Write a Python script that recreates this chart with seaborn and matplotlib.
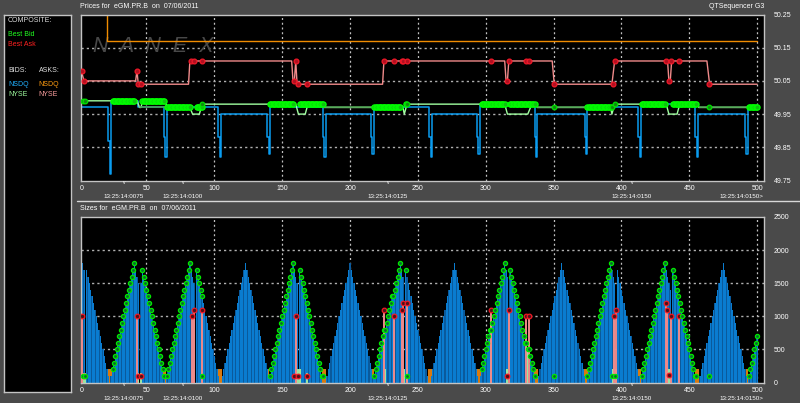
"""Nanex QTSequencer style chart: prices and sizes for eGM.PR.B, tick by tick."""

import matplotlib

matplotlib.use("Agg")
import matplotlib.pyplot as plt
import seaborn as sns

# ── Data ─────────────────────────────────────────────────────────────
price_ticks = [50.25, 50.15, 50.05, 49.95, 49.85, 49.75]
size_ticks = [2500, 2000, 1500, 1000, 500, 0]
seq_ticks = [50, 100, 150, 200, 250, 300, 350, 400, 450, 500]

nsdq_ask_x = [20.7, 20.7, 500]
nsdq_ask_y = [50.30, 50.17, 50.17]

nyse_ask_x = [2, 4, 42, 43, 44, 81, 82, 157, 158, 159, 160, 161, 224, 225, 314, 315,
              316, 317, 349, 350.5, 393, 395, 434, 435, 436, 437, 463, 465, 500]
nyse_ask_y = [50.08, 50.05, 50.05, 50.08, 50.04, 50.04, 50.11, 50.11, 50.05, 50.05,
              50.11, 50.04, 50.04, 50.11, 50.11, 50.05, 50.05, 50.11, 50.11, 50.04,
              50.04, 50.11, 50.11, 50.05, 50.05, 50.11, 50.11, 50.04, 50.04]

nyse_bid_x = [2, 43, 45, 46, 47, 64, 65, 82, 84, 89, 91, 160, 162, 167, 169, 180, 181,
              239, 240, 242, 314, 316, 331, 334, 337, 338, 392, 393, 395, 433, 435,
              441, 443, 456, 457, 500]
nyse_bid_y = [49.99, 49.99, 49.97, 49.97, 49.99, 49.99, 49.97, 49.97, 49.95, 49.95,
              49.98, 49.98, 49.95, 49.95, 49.98, 49.98, 49.97, 49.97, 49.95, 49.98,
              49.98, 49.95, 49.95, 49.98, 49.98, 49.97, 49.97, 49.95, 49.98, 49.98,
              49.95, 49.95, 49.98, 49.98, 49.97, 49.97]
dark_bid_spans = [(45, 65), (181, 218), (338, 375), (457, 494)]
dark_bid_level = 49.97

nsdq_bid_x = [2, 22, 22, 23, 23, 24, 24, 44, 44, 63, 63, 64, 64, 65, 65, 103, 103, 104,
              104, 105, 105, 139, 139, 140, 140, 141, 141, 159, 159, 180, 180, 181, 181,
              182, 182, 215.5, 215.5, 216.5, 216.5, 217.5, 217.5, 258.5, 258.5, 259.5,
              259.5, 260.5, 260.5, 293.5, 293.5, 294.5, 294.5, 295.5, 295.5, 336, 336,
              337, 337, 338, 338, 373, 373, 374, 374, 375, 375, 412.5, 412.5, 413.5,
              413.5, 414.5, 414.5, 454.5, 454.5, 455.5, 455.5, 456.5, 456.5, 491, 491,
              492, 492, 493, 493, 500]
nsdq_bid_y = [49.97, 49.97, 49.87, 49.87, 49.77, 49.77, 49.99, 49.99, 49.97, 49.97, 49.88,
              49.88, 49.82, 49.82, 49.97, 49.97, 49.88, 49.88, 49.82, 49.82, 49.95, 49.95,
              49.88, 49.88, 49.83, 49.83, 49.98, 49.98, 49.97, 49.97, 49.88, 49.88, 49.82,
              49.82, 49.95, 49.95, 49.88, 49.88, 49.83, 49.83, 49.97, 49.97, 49.88, 49.88,
              49.82, 49.82, 49.95, 49.95, 49.88, 49.88, 49.83, 49.83, 49.98, 49.98, 49.88,
              49.88, 49.82, 49.82, 49.95, 49.95, 49.88, 49.88, 49.83, 49.83, 49.97, 49.97,
              49.88, 49.88, 49.82, 49.82, 49.98, 49.98, 49.88, 49.88, 49.82, 49.82, 49.95,
              49.95, 49.88, 49.88, 49.83, 49.83, 49.97, 49.97]

# first tick, last tick, price of the best bid runs
best_bid_runs = [(25, 41, 49.99), (47, 63, 49.99), (65, 82, 49.97), (87, 91, 49.97),
                 (141, 158, 49.98), (163, 180, 49.98), (218, 237, 49.97), (241, 241, 49.98),
                 (297, 314, 49.98), (318, 336, 49.98), (375, 392, 49.97), (415, 432, 49.98),
                 (438, 455, 49.98), (494, 500, 49.97)]

lone_bid_x = [3, 5, 91, 242, 350.6, 393, 395, 464.8]
lone_bid_y = [49.99, 49.99, 49.98, 49.98, 49.97, 49.97, 49.98, 49.97]
lone_bid_size = [100, 100, 100, 100, 100, 100, 100, 100]

best_ask_x = [2.3, 4.2, 42.8, 44, 46, 82.6, 85.3, 91.2, 160, 158.7, 161.5, 168.3, 225.3,
              232.2, 238, 239.3, 241.8, 303.7, 317, 315.5, 329.7, 331.7, 350.6, 393.6,
              395.5, 432.9, 436.6, 435.3, 442.7, 464.8]
best_ask_y = [50.08, 50.05, 50.08, 50.04, 50.04, 50.11, 50.11, 50.11, 50.11, 50.05, 50.04,
              50.04, 50.11, 50.11, 50.11, 50.11, 50.11, 50.11, 50.11, 50.05, 50.11, 50.11,
              50.04, 50.04, 50.11, 50.11, 50.11, 50.05, 50.11, 50.04]

ask_size_x = [2.3, 43.3, 83.3, 85.3, 91.2, 160.2, 225.3, 232.2, 238, 239.3, 241.8, 303.7,
              317, 329.7, 331.7, 394.5, 396, 432.9, 433.9, 436.6, 442.7]
ask_size_y = [1000, 1000, 1000, 1100, 1100, 1000, 1100, 1000, 1100, 1200, 1200, 1100,
              1100, 1000, 1000, 1000, 1100, 1200, 1100, 1000, 1000]
low_ask_x = [4.2, 44, 46, 158.7, 162, 168.3, 315.5, 435]
low_ask_y = [100, 100, 100, 100, 100, 100, 100, 120]

nyse_bid_size_x = [3, 5, 44, 46, 84, 162, 163, 168, 226, 240, 242, 304, 316, 331, 394, 396,
                   434, 436]
nyse_bid_size_y = [150, 150, 150, 150, 200, 200, 200, 150, 200, 200, 200, 1000, 200, 500,
                   200, 200, 200, 200]

nsdq_ask_size_x = [22, 23, 24, 63, 64, 103, 104, 105, 139, 140, 180, 181, 182, 215, 216,
                   217, 258, 259, 260, 294, 295, 296, 336, 337, 338, 373, 374, 375, 412,
                   413, 414, 455, 456, 457, 491, 492, 493]
nsdq_ask_size_y = [200] * len(nsdq_ask_size_x)

rise = [100, 200, 300, 400, 500, 600, 700, 800, 900, 1000, 1100, 1200, 1300, 1400, 1500,
        1600, 1700, 1800]
fall = [1700, 1600, 1500, 1400, 1300, 1200, 1100, 1000, 900, 800, 700, 600, 500, 400, 300,
        200, 100]

# first tick of the run, bid sizes from there on
nsdq_bid_size_runs = [
    (2, [100, 1800, 1700, 100]), (6, fall), (24, rise), (42, [1700, 1600, 1500, 0, 1500]),
    (47, fall), (65, rise), (83, [1700, 1600, 1500, 0]), (87, fall), (106, rise),
    (124, fall), (141, rise), (159, [1700, 1600, 1500, 0]), (163, fall), (183, rise),
    (201, fall),
    (218, [100, 200, 300, 400, 500, 600, 700, 800, 800, 900, 1000, 1100, 1200, 1300, 1300,
           1400, 1500, 1600, 1700, 1800]),
    (238, [1700, 1600, 0]), (241, fall), (260, rise), (278, fall),
    (296, [100, 200, 300, 400, 500, 600, 700, 800, 800, 900, 1000, 1100, 1200, 1300, 1400,
           1500, 1600, 1700, 1800]),
    (315, [1700, 1600, 0]),
    (318, [1700, 1600, 1500, 1400, 1300, 1200, 1100, 1000, 900, 800, 700, 600, 600, 500,
           500, 400, 300, 200, 100]),
    (339, rise), (357, fall), (375, rise), (393, [1700, 1600, 1500, 0]), (397, fall),
    (415, rise), (433, [1700, 1600, 1500, 1400, 0]), (438, fall), (458, rise), (476, fall),
    (494, [100, 200, 300, 400, 500, 600, 700]),
]

time_labels = ["13:25:14:0075", "13:25:14:0100", "13:25:14:0125", "13:25:14:0150",
               "13:25:14:0150>"]

# ── Layout and colours ───────────────────────────────────────────────
W, H = 800, 403
BG = "#4a4a4a"
FRAME = "#c4c4c4"
TXT = "#ffffff"
BLUE = "#0a9cf0"
BAR_BLUE = "#0a7cd0"
BAR_DARK = "#0a5a9c"
ORANGE = "#f08c00"
PINK = "#f08a8a"
LIGHT_GREEN = "#a0ffa0"
FONT = "Liberation Sans"
FS = 5.0
FS_TIME = 4.5


def add_panel(fig, left, top, right, bottom):
    ax = fig.add_axes([left / W, 1 - bottom / H, (right - left) / W, (bottom - top) / H])
    ax.set_facecolor("black")
    for spine in ax.spines.values():
        spine.set_color(FRAME)
        spine.set_linewidth(1.0)
    return ax


def fig_text(fig, x, y, s, color=TXT, size=FS, ha="left", **kw):
    fig.text(x / W, 1 - y / H, s, color=color, fontsize=size, ha=ha, va="center", **kw)


def style_axis(ax, yticks, ylim, grid_ticks):
    ax.set_xlim(1.4, 504.7)
    ax.set_ylim(*ylim)
    ax.set_xticks(seq_ticks)
    ax.set_yticks(yticks)
    ax.yaxis.tick_right()
    ax.tick_params(axis="both", length=0, colors=TXT, labelsize=FS, pad=0)
    ax.tick_params(axis="y", pad=7.5)
    ax.tick_params(axis="x", pad=3.2)
    ax.set_xlabel("")
    ax.set_ylabel("")
    ax.grid(False)
    ax.set_axisbelow(True)
    ax.vlines(seq_ticks, *ylim, color="#c0c0c0", lw=0.9, ls=(0, (1.6, 2.2)), zorder=0.5)
    ax.hlines(grid_ticks, 1.4, 504.7, color="#b0b0b0", lw=1.0, ls=(0, (1.6, 2.2)), zorder=0.5)
    ax.text(2.3, ylim[0] - (ylim[1] - ylim[0]) * 0.026, "0", color=TXT, fontsize=FS,
            ha="center", va="top", clip_on=False)


def dots(ax, x, y, face, edge, size=13, z=5):
    sns.scatterplot(x=x, y=y, ax=ax, s=size, color=face, edgecolor=edge, linewidth=0.9,
                    zorder=z, legend=False, clip_on=True)


def draw_prices(ax, bid_x, bid_y):
    sns.lineplot(x=nsdq_ask_x, y=nsdq_ask_y, ax=ax, estimator=None, sort=False, color=ORANGE,
                 lw=1.0, zorder=2)
    sns.lineplot(x=nyse_ask_x, y=nyse_ask_y, ax=ax, estimator=None, sort=False, color=PINK,
                 lw=1.0, zorder=2)
    sns.lineplot(x=nsdq_bid_x, y=nsdq_bid_y, ax=ax, estimator=None, sort=False, color=BLUE,
                 lw=1.1, zorder=2)
    sns.lineplot(x=nyse_bid_x, y=nyse_bid_y, ax=ax, estimator=None, sort=False, color=LIGHT_GREEN,
                 lw=1.0, zorder=3)
    for start, end in dark_bid_spans:
        sns.lineplot(x=[start, end], y=[dark_bid_level, dark_bid_level], ax=ax, estimator=None,
                     color="#4c9a50", lw=1.2, zorder=3)
    dots(ax, bid_x, bid_y, "#10c010", "#00ff00", size=14)
    dots(ax, lone_bid_x, lone_bid_y, "#108a10", "#00e000", size=11)
    dots(ax, best_ask_x, best_ask_y, "#b01020", "#f01828", size=12)


def draw_sizes(ax, bid_x, bid_size):
    sns.barplot(x=nsdq_ask_size_x, y=nsdq_ask_size_y, ax=ax, native_scale=True, color="#d87a10",
                saturation=1, width=1.0, linewidth=0, errorbar=None, zorder=2)
    sns.barplot(x=size_x, y=size_y, ax=ax, native_scale=True, color=BAR_DARK, saturation=1,
                width=1.0, linewidth=0, errorbar=None, zorder=2)
    sns.barplot(x=size_x, y=size_y, ax=ax, native_scale=True, color=BAR_BLUE, saturation=1,
                width=0.72, linewidth=0, errorbar=None, zorder=2)
    ax.vlines(nyse_bid_size_x, 0, nyse_bid_size_y, color="#a0e8a0", lw=1.4, zorder=3)
    ax.vlines(ask_size_x, 0, ask_size_y, color=PINK, lw=1.4, zorder=4)
    dots(ax, ask_size_x, ask_size_y, "#501018", "#f01824", size=11, z=6)
    dots(ax, low_ask_x, low_ask_y, "#501018", "#f01824", size=11, z=6)
    dots(ax, bid_x, bid_size, "#0c6a30", "#00e800", size=9, z=7)
    dots(ax, lone_bid_x, lone_bid_size, "#0c6a30", "#00e800", size=9, z=7)


# ── Expand runs ──────────────────────────────────────────────────────
size_x, size_y = [], []
for first, values in nsdq_bid_size_runs:
    for offset, value in enumerate(values):
        size_x.append(first + offset)
        size_y.append(value)
size_by_tick = dict(zip(size_x, size_y))

best_bid_x, best_bid_y, best_bid_size = [], [], []
for first, last, price in best_bid_runs:
    for tick in range(first, last + 1):
        best_bid_x.append(tick)
        best_bid_y.append(price)
        best_bid_size.append(size_by_tick.get(tick, 100))

# ── Figure ───────────────────────────────────────────────────────────
sns.set_theme(style="dark")
plt.rcParams["font.family"] = [FONT, "DejaVu Sans"]

fig = plt.figure(figsize=(W / 100, H / 100), dpi=100, facecolor=BG)

# legend box on the left
box = add_panel(fig, 3.5, 14.5, 70.5, 391.5)
box.set_xticks([])
box.set_yticks([])
fig_text(fig, 8, 20.5, "COMPOSITE:", color="#e0e0e0", zorder=5)
fig_text(fig, 8, 34, "Best Bid", color="#20ff20", zorder=5)
fig_text(fig, 8, 44, "Best Ask", color="#ff2020", zorder=5)
fig_text(fig, 8, 70.5, "BIDS:", color="#e0e0e0", zorder=5)
fig_text(fig, 38.5, 70.5, "ASKS:", color="#e0e0e0", zorder=5)
fig_text(fig, 8, 84, "NSDQ", color="#20b0ff", zorder=5)
fig_text(fig, 38, 84, "NSDQ", color="#ff9c10", zorder=5)
fig_text(fig, 8, 94, "NYSE", color=LIGHT_GREEN, zorder=5)
fig_text(fig, 38, 94, "NYSE", color="#ffa0a0", zorder=5)

# prices panel
ax_top = add_panel(fig, 80.5, 14.5, 763.5, 180.5)
ax_top.text(0.018, 0.81, "N  A  N  E  X", transform=ax_top.transAxes, color="#484848",
            fontsize=15.5, style="italic", va="center", zorder=1)
draw_prices(ax_top, best_bid_x, best_bid_y)
style_axis(ax_top, price_ticks, (49.75, 50.25), [50.15, 50.05, 49.95, 49.85])
ax_top.set_yticklabels([f"{p:.2f}" for p in price_ticks])

# sizes panel
ax_bot = add_panel(fig, 80.5, 217, 763.5, 382.5)
draw_sizes(ax_bot, best_bid_x, best_bid_size)
style_axis(ax_bot, size_ticks, (0, 2500), [2000, 1500, 1000, 500])
ax_bot.set_yticklabels([str(s) for s in size_ticks])

# titles and time stamps
fig_text(fig, 80, 6.5, "Prices for  eGM.PR.B  on  07/06/2011")
fig_text(fig, 80, 209, "Sizes for  eGM.PR.B  on  07/06/2011")
fig_text(fig, 764, 6.5, "QTSequencer G3", ha="right")
fig.add_artist(plt.Line2D([76.5 / W, 1], [1 - 201 / H, 1 - 201 / H], color="#d8d8d8", lw=1))
for x_px, label in zip([123.5, 183, 388, 632, 741.5], time_labels):
    fig_text(fig, x_px, 196.5, label, ha="center", size=FS_TIME)
    fig_text(fig, x_px, 398.7, label, ha="center", size=FS_TIME)
for x_px in [124, 183, 388, 632]:
    fig_text(fig, x_px, 182.5, "v", ha="center", size=3.5)
    fig_text(fig, x_px, 384.5, "v", ha="center", size=3.5)

fig.savefig("out.png", dpi=100, facecolor=fig.get_facecolor())
plt.close(fig)
